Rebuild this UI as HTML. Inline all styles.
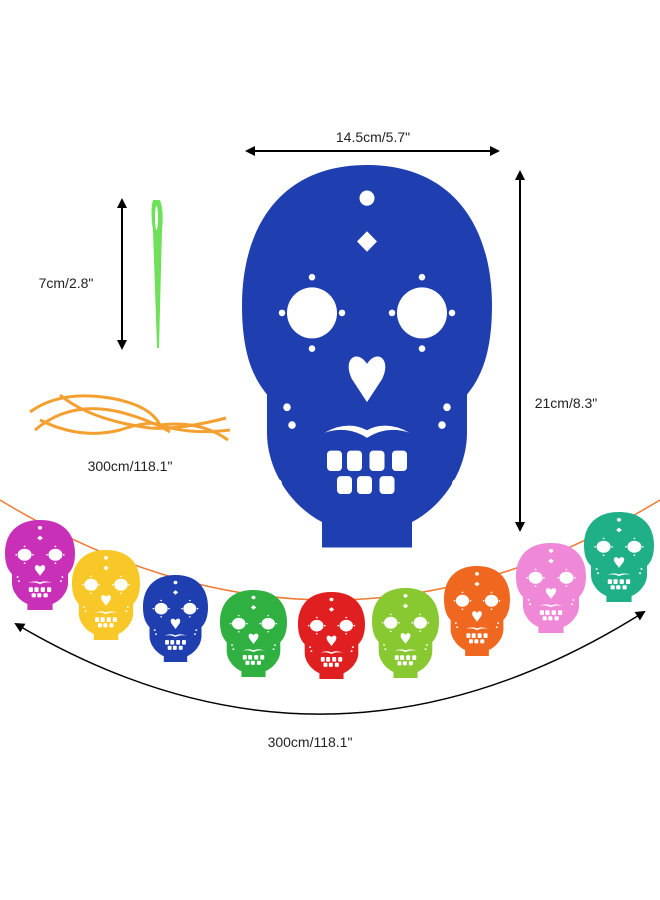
<!DOCTYPE html>
<html><head><meta charset="utf-8"><style>
html,body{margin:0;padding:0;background:#fff;}
svg{display:block}
text{font-family:"Liberation Sans",sans-serif;font-size:14px;fill:#222}
</style></head><body>
<svg width="660" height="900" viewBox="0 0 660 900" xmlns="http://www.w3.org/2000/svg">
<defs>
<marker id="ah" markerWidth="10" markerHeight="10" refX="8" refY="5" orient="auto-start-reverse" markerUnits="userSpaceOnUse">
<path d="M0,0 L10,5 L0,10 Z" fill="#000"/></marker>
<g id="sk">
<path d="M50,0 C85,0 100,25 100,55 C100,75 95,84 90,90 L90,105 C90,120 80,134 68,140 L68,150 L32,150 L32,140 C20,134 10,120 10,105 L10,90 C5,84 0,75 0,55 C0,25 15,0 50,0 Z"/>
<g fill="#fff">
<circle cx="28" cy="58" r="10"/><circle cx="72" cy="58" r="10"/>
<path d="M50,78 C46,72 40,76 44,84 L50,93 L56,84 C60,76 54,72 50,78 Z"/>
<path d="M46,30 L50,26 L54,30 L50,34 Z"/>
<circle cx="50" cy="13" r="3"/>
<path d="M33,105 Q42,100 50,104 Q58,100 67,105 Q58,102 50,107 Q42,102 33,105 Z"/>
<rect x="34" y="112" width="6" height="8" rx="1.5"/><rect x="42" y="112" width="6" height="8" rx="1.5"/><rect x="51" y="112" width="6" height="8" rx="1.5"/><rect x="60" y="112" width="6" height="8" rx="1.5"/>
<rect x="38" y="122" width="6" height="7" rx="1.5"/><rect x="46" y="122" width="6" height="7" rx="1.5"/><rect x="55" y="122" width="6" height="7" rx="1.5"/>
<circle cx="18" cy="95" r="1.5"/><circle cx="82" cy="95" r="1.5"/><circle cx="20" cy="102" r="1.5"/><circle cx="80" cy="102" r="1.5"/>
<circle cx="28" cy="44" r="1.3"/><circle cx="72" cy="44" r="1.3"/><circle cx="16" cy="58" r="1.3"/><circle cx="84" cy="58" r="1.3"/><circle cx="40" cy="58" r="1.3"/><circle cx="60" cy="58" r="1.3"/><circle cx="28" cy="72" r="1.3"/><circle cx="72" cy="72" r="1.3"/>
<circle cx="14" cy="125" r="2"/><circle cx="86" cy="125" r="2"/>
</g></g>
</defs>
<g transform="translate(242,165) scale(2.5,2.55)" fill="#1f3fb0"><use href="#sk"/></g>
<line x1="247" y1="151" x2="498" y2="151" stroke="#000" stroke-width="2" marker-start="url(#ah)" marker-end="url(#ah)"/>
<text x="373" y="142" text-anchor="middle">14.5cm/5.7"</text>
<line x1="520" y1="172" x2="520" y2="530" stroke="#000" stroke-width="2" marker-start="url(#ah)" marker-end="url(#ah)"/>
<text x="566" y="408" text-anchor="middle">21cm/8.3"</text>
<path d="M153,200 Q150,210 153,230 L157,348 L159,348 L162,230 Q164,210 160,200 Z" fill="#6ee05a"/>
<ellipse cx="156.5" cy="218" rx="1.5" ry="12" fill="#fff"/>
<line x1="122" y1="200" x2="122" y2="348" stroke="#000" stroke-width="2" marker-start="url(#ah)" marker-end="url(#ah)"/>
<text x="66" y="288" text-anchor="middle">7cm/2.8"</text>
<g fill="none" stroke="#f4a030" stroke-width="3">
<path d="M30,412 Q60,390 110,398 Q150,405 160,425 Q190,435 230,430"/>
<path d="M40,420 Q80,440 120,430 Q150,420 160,425 Q200,420 228,440"/>
<path d="M60,395 Q90,420 150,428 Q180,430 226,418"/>
<path d="M35,430 Q70,400 120,412 Q150,420 170,432"/>
</g>
<text x="130" y="471" text-anchor="middle">300cm/118.1"</text>
<path d="M0,500 Q330,700 660,500" fill="none" stroke="#f07830" stroke-width="1.5"/>
<g transform="translate(5,520) scale(0.7,0.6)" fill="#c830b8"><use href="#sk"/></g>
<g transform="translate(72,550) scale(0.68,0.6)" fill="#f8c828"><use href="#sk"/></g>
<g transform="translate(143,575) scale(0.65,0.58)" fill="#1f3fb0"><use href="#sk"/></g>
<g transform="translate(220,590) scale(0.67,0.58)" fill="#30b040"><use href="#sk"/></g>
<g transform="translate(298,592) scale(0.67,0.58)" fill="#e02020"><use href="#sk"/></g>
<g transform="translate(372,588) scale(0.67,0.6)" fill="#88c830"><use href="#sk"/></g>
<g transform="translate(444,566) scale(0.66,0.6)" fill="#f06820"><use href="#sk"/></g>
<g transform="translate(516,543) scale(0.7,0.6)" fill="#f088d8"><use href="#sk"/></g>
<g transform="translate(584,512) scale(0.7,0.6)" fill="#20b088"><use href="#sk"/></g>
<path d="M16,624 Q330,810 644,612" fill="none" stroke="#000" stroke-width="1.5" marker-start="url(#ah)" marker-end="url(#ah)"/>
<text x="310" y="747" text-anchor="middle">300cm/118.1"</text>
</svg>
</body></html>
